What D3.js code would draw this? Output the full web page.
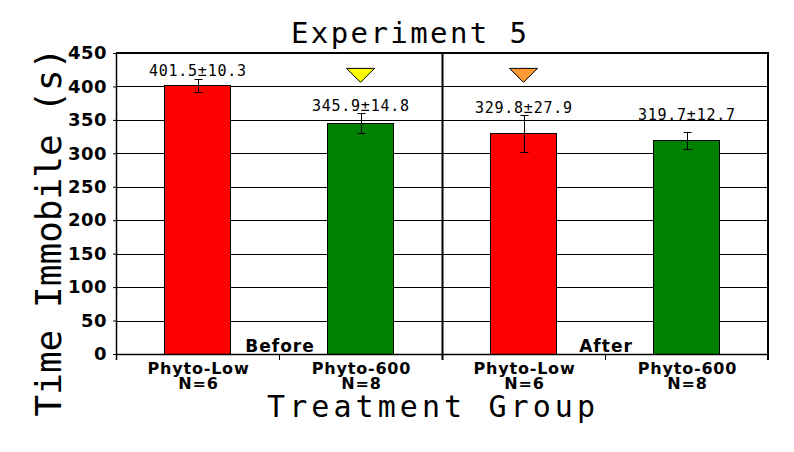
<!DOCTYPE html>
<html lang="en">
<head>
<meta charset="utf-8">
<title>Experiment 5</title>
<script src="https://d3js.org/d3.v7.min.js"></script>
<style>
  body { margin: 0; background: #fff; }
  svg { display: block; }
  .mono { font-family: "DejaVu Sans Mono", monospace; fill: #000; }
  .bold { font-family: "DejaVu Sans", Verdana, sans-serif; font-weight: bold; fill: #000; }
</style>
</head>
<body>
<svg id="chart"></svg>
<script>
// data
const groups = ["Before", "After"];
const categories = ["Phyto-Low", "Phyto-600", "Phyto-Low", "Phyto-600"];
const counts = [6, 8, 6, 8];
const means = [401.5, 345.9, 329.8, 319.7];
const errors = [10.3, 14.8, 27.9, 12.7];
const barColors = ["#ff0000", "#008000", "#ff0000", "#008000"];
const yTicks = [0, 50, 100, 150, 200, 250, 300, 350, 400, 450];
const markerBars = [1, 2];
const markerColors = ["#ffff00", "#ff9933"];

const W = 794, H = 452;
const plotL = 116, plotR = 768, plotT = 53, plotB = 354;

const svg = d3.select("#chart").attr("width", W).attr("height", H);

const x = d3.scaleBand()
  .domain(d3.range(categories.length))
  .range([plotL, plotR])
  .paddingInner(0.595)
  .paddingOuter(0.2975);

const y = d3.scaleLinear().domain([0, 450]).range([plotB, plotT]);

//gridlines
svg.append("g").selectAll("line")
  .data(yTicks.filter(t => t > 0 && t < 450))
  .join("line")
  .attr("x1", plotL).attr("x2", plotR)
  .attr("y1", d => Math.round(y(d)) + 0.5).attr("y2", d => Math.round(y(d)) + 0.5)
  .attr("stroke", "#000").attr("stroke-width", 1);

//bars
svg.append("g").selectAll("rect")
  .data(means)
  .join("rect")
  .attr("x", (d, i) => Math.round(x(i)) + 0.5)
  .attr("y", d => Math.round(y(d)) + 0.5)
  .attr("width", Math.round(x.bandwidth()))
  .attr("height", d => Math.round(y(0) - y(d)))
  .attr("fill", (d, i) => barColors[i])
  .attr("stroke", "#000").attr("stroke-width", 1);

//error bars
const eb = svg.append("g").attr("stroke", "#000").attr("stroke-width", 1);
means.forEach((m, i) => {
  const cx = Math.round(x(i) + x.bandwidth() / 2) + 0.5;
  const y1 = Math.round(y(m + errors[i])) + 0.5, y2 = Math.round(y(m - errors[i])) + 0.5;
  eb.append("line").attr("x1", cx).attr("x2", cx).attr("y1", y1).attr("y2", y2);
  eb.append("line").attr("x1", cx - 4).attr("x2", cx + 4).attr("y1", y1).attr("y2", y1);
  eb.append("line").attr("x1", cx - 4).attr("x2", cx + 4).attr("y1", y2).attr("y2", y2);
});

//value labels (the last one sits a bit higher in the original)
const labelLift = [3, 2, 2, 12];
svg.append("g").selectAll("text")
  .data(means)
  .join("text")
  .attr("class", "mono")
  .attr("x", (d, i) => x(i) + x.bandwidth() / 2)
  .attr("y", (d, i) => y(d + errors[i]) - labelLift[i])
  .attr("text-anchor", "middle")
  .attr("font-size", 15)
  .attr("textLength", 97)
  .attr("lengthAdjust", "spacing")
  .text((d, i) => `${d.toFixed(1)}±${errors[i].toFixed(1)}`);

//triangle markers
const triLevel = 427;
svg.append("g").selectAll("path")
  .data(markerBars)
  .join("path")
  .attr("d", b => {
    const cx = x(b) + x.bandwidth() / 2, ty = y(triLevel);
    return `M${cx - 14},${ty} L${cx + 14},${ty} L${cx},${ty + 14} Z`;
  })
  .attr("fill", (b, i) => markerColors[i])
  .attr("stroke", "#000").attr("stroke-width", 1);

//y axis
const yAxis = svg.append("g")
  .attr("transform", `translate(${plotL},0)`)
  .call(d3.axisLeft(y).tickValues(yTicks).tickSize(3).tickPadding(6));
yAxis.select(".domain").remove();
yAxis.selectAll("line").attr("stroke", "#000");
yAxis.selectAll("text")
  .attr("class", "bold")
  .attr("font-size", 18)
  .attr("letter-spacing", 0.5)
  .attr("fill", null);
yAxis.attr("font-family", null).attr("font-size", null);

//frame
const frame = svg.append("g").attr("fill", "none").attr("stroke", "#000");
frame.append("line").attr("x1", plotL).attr("x2", plotR + 1).attr("y1", plotT).attr("y2", plotT).attr("stroke-width", 2);
frame.append("line").attr("x1", plotL + 0.5).attr("x2", plotL + 0.5).attr("y1", plotT).attr("y2", plotB + 6).attr("stroke-width", 1.5);
frame.append("line").attr("x1", plotR).attr("x2", plotR).attr("y1", plotT).attr("y2", plotB + 6).attr("stroke-width", 2);
frame.append("line").attr("x1", plotL).attr("x2", plotR).attr("y1", plotB + 0.5).attr("y2", plotB + 0.5).attr("stroke-width", 1.5);

//x ticks at band boundaries, group divider
const bounds = d3.range(categories.length + 1).map(i => plotL + i * x.step());
frame.selectAll(".xt")
  .data(bounds.slice(1, -1))
  .join("line")
  .attr("x1", d => Math.round(d) + 0.5).attr("x2", d => Math.round(d) + 0.5)
  .attr("y1", (d, i) => i === 1 ? plotT : plotB)
  .attr("y2", plotB + 6)
  .attr("stroke-width", (d, i) => i === 1 ? 2 : 1);

//category labels
const cat = svg.append("g").selectAll("text")
  .data(categories)
  .join("text")
  .attr("class", "bold")
  .attr("font-size", 16)
  .attr("letter-spacing", 0.8)
  .attr("text-anchor", "middle");
cat.append("tspan").attr("x", (d, i) => x(i) + x.bandwidth() / 2 + 1).attr("y", 374).text(d => d);
cat.append("tspan").attr("x", (d, i) => x(i) + x.bandwidth() / 2 + 1).attr("y", 389).text((d, i) => `N=${counts[i]}`);

//group labels, centred in each half
svg.append("g").selectAll("text")
  .data(groups)
  .join("text")
  .attr("class", "bold")
  .attr("font-size", 17)
  .attr("letter-spacing", 1)
  .attr("text-anchor", "middle")
  .attr("x", (d, i) => (bounds[i * 2] + bounds[i * 2 + 2]) / 2 + 1)
  .attr("y", 352)
  .text(d => d);

//titles
svg.append("text")
  .attr("class", "mono")
  .attr("x", 409).attr("y", 43)
  .attr("text-anchor", "middle")
  .attr("font-size", 29)
  .attr("textLength", 236).attr("lengthAdjust", "spacing")
  .text("Experiment 5");

svg.append("text")
  .attr("class", "mono")
  .attr("x", 431).attr("y", 417)
  .attr("text-anchor", "middle")
  .attr("font-size", 30)
  .attr("textLength", 328).attr("lengthAdjust", "spacing")
  .text("Treatment Group");

svg.append("text")
  .attr("class", "mono")
  .attr("transform", "translate(61,232) rotate(-90)")
  .attr("text-anchor", "middle")
  .attr("font-size", 36)
  .attr("textLength", 369).attr("lengthAdjust", "spacing")
  .text("Time Immobile (s)");
</script>
</body>
</html>
